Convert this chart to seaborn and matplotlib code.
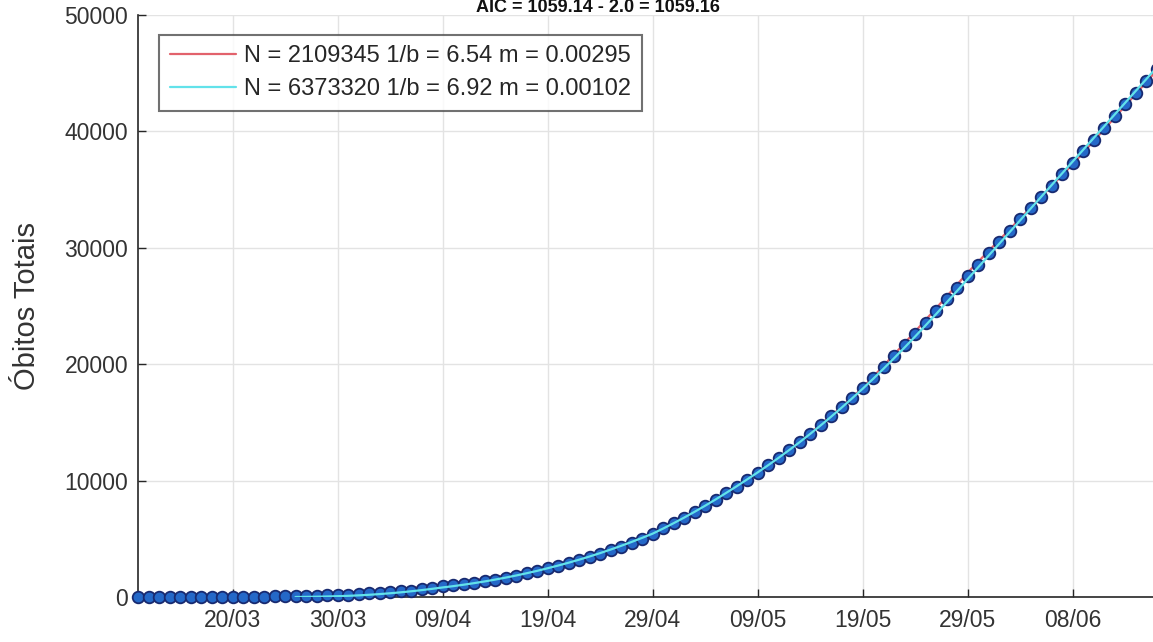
import numpy as np
import pandas as pd
import matplotlib
matplotlib.use('Agg')
import matplotlib.pyplot as plt
import matplotlib.dates as mdates
import seaborn as sns

# == DATA ==
# daily dates from 11/03/2020 to 16/06/2020
dias = pd.date_range('2020-03-11', '2020-06-16', freq='D')

# total deaths (data points)
obitos = [0, 0, 0, 0, 0, 0,
          1, 4, 7, 11, 18, 25, 34, 46, 59, 77, 92, 111, 136, 159, 201,
          240, 324, 359, 445, 486, 553, 667, 800, 941, 1010, 1110, 1220, 1340, 1480, 1640,
          1820, 2020, 2230, 2460, 2700, 2920, 3160, 3420, 3700, 4000, 4320, 4660, 5020, 5420, 5890,
          6345, 6820, 7315, 7830, 8365, 8920, 9490, 10080, 10685, 11315, 11965, 12635, 13325, 14040,
          14775, 15530, 16310, 17110, 17930, 18825, 19745, 20680, 21630, 22595, 23575, 24560, 25560,
          26570, 27590, 28560, 29530,
          30500, 31470, 32440, 33410, 34380, 35350, 36320, 37290, 38295, 39300, 40310, 41320, 42330,
          43340, 44350, 45365]

# model 1 (red)
modelo1 = [5, 7, 9, 12, 16, 21,
           27, 34, 43, 54, 67, 82, 100, 121, 145, 172, 203, 238, 277, 320, 368,
           421, 479, 543, 613, 689, 771, 860, 956, 1060, 1172, 1292, 1421, 1559, 1706, 1863,
           2030, 2207, 2395, 2594, 2814, 3049, 3299, 3564, 3844, 4139, 4449, 4774, 5114, 5470, 5900,
           6350, 6820, 7310, 7820, 8350, 8900, 9470, 10060, 10670, 11310, 11970, 12650, 13350, 14070,
           14810, 15570, 16350, 17150, 17970, 18910, 19870, 20840, 21820, 22810, 23810, 24810, 25820,
           26840, 27870, 28800, 29730,
           30660, 31590, 32520, 33450, 34380, 35310, 36240, 37170, 38170, 39175, 40180, 41190, 42200,
           43210, 44220, 45240]

# model 2 (cyan), starts later
modelo2 = [np.nan] * 15 + [
           0, 10, 25, 45, 70, 100,
           140, 190, 250, 320, 400, 490, 590, 700, 820, 930, 1055, 1190, 1335, 1495, 1665,
           1845, 2040, 2245, 2470, 2700, 2945, 3205, 3480, 3770, 4075, 4395, 4730, 5080, 5440, 5880,
           6340, 6820, 7320, 7840, 8380, 8940, 9510, 10100, 10700, 11320, 11960, 12620, 13300, 14010,
           14740, 15490, 16270, 17070, 17890, 18740, 19620, 20520, 21440, 22380, 23340, 24310, 25300,
           26300, 27310, 28320, 29330,
           30340, 31350, 32360, 33370, 34380, 35390, 36400, 37410, 38420, 39430, 40440, 41450, 42460,
           43470, 44480, 45490]

leg1 = 'N = 2109345 1/b = 6.54 m = 0.00295'
leg2 = 'N = 6373320 1/b = 6.92 m = 0.00102'
titulo = 'AIC = 1059.14 - 2.0 = 1059.16'

df = pd.DataFrame({'dia': dias, 'obitos': obitos, 'm1': modelo1, 'm2': modelo2})

# ==== PLOT FIGURE ====
sns.set_style("ticks")
plt.rcParams['font.family'] = ['Liberation Sans', 'DejaVu Sans']

fig = plt.figure(figsize=(11.53, 6.42), dpi=100)
ax = fig.add_axes([0.1197, 0.0701, 0.885, 0.9065])

sns.lineplot(data=df, x='dia', y='m1', ax=ax, color='#e2626c', lw=1.6, label=leg1, zorder=2)
sns.scatterplot(data=df, x='dia', y='obitos', ax=ax, color='#2468c8', edgecolor='#182a70',
                linewidth=1.3, s=70, zorder=3, clip_on=False, legend=False)
sns.lineplot(data=df.dropna(), x='dia', y='m2', ax=ax, color='#62e2ea', lw=1.6, label=leg2, zorder=4)

ax.set_xlim(pd.Timestamp('2020-03-11'), pd.Timestamp('2020-06-16 04:00'))
ax.set_ylim(0, 50000)
ax.set_xticks(pd.date_range('2020-03-20', '2020-06-08', freq='10D'))
ax.xaxis.set_major_formatter(mdates.DateFormatter('%d/%m'))
ax.set_yticks(range(0, 50001, 10000))

ax.grid(True, color='#e3e3e3', lw=1.0)
ax.set_axisbelow(True)
ax.tick_params(direction='in', length=6, width=1, colors='#262626', labelsize=16.5,
               labelcolor='#333333')
ax.tick_params(axis='x', pad=9)
ax.tick_params(axis='y', pad=7)
for s in ['top', 'right']:
    ax.spines[s].set_visible(False)
for s in ['left', 'bottom']:
    ax.spines[s].set_color('#262626')
    ax.spines[s].set_linewidth(1.2)

ax.set_xlabel('')
ax.set_ylabel('Óbitos Totais', fontsize=21, color='#333333', labelpad=17)

leg = ax.legend(loc='upper left', bbox_to_anchor=(0.021, 0.966), borderaxespad=0,
                fontsize=17, frameon=True, fancybox=False, handlelength=2.8,
                borderpad=0.45, labelspacing=0.45, handletextpad=0.35)
leg.get_frame().set_edgecolor('#4d4d4d')
leg.get_frame().set_linewidth(1.5)

# title is squeezed into the strip above the axes
fig.text(0.519, 0.9815, titulo, ha='center', va='baseline', fontsize=13, fontweight='bold',
         color='#111111')

plt.savefig('out.png', dpi=100)
plt.close()
